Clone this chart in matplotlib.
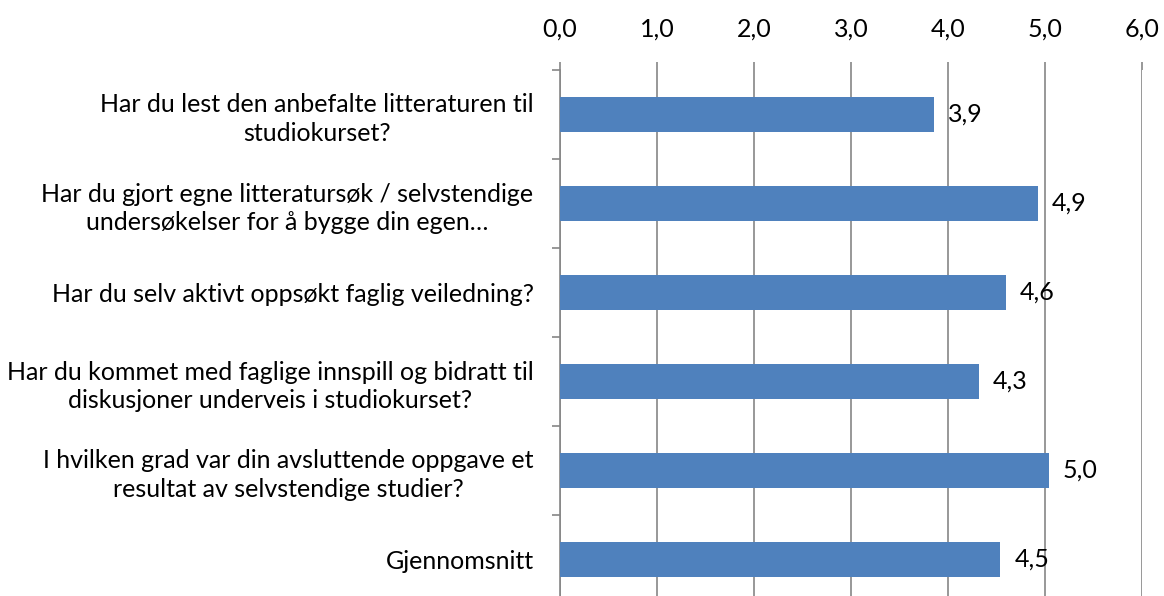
import matplotlib.pyplot as plt

# survey questions, top to bottom
questions = [
    "Har du lest den anbefalte litteraturen til\nstudiokurset?",
    "Har du gjort egne litteratursøk / selvstendige\nundersøkelser for å bygge din egen…",
    "Har du selv aktivt oppsøkt faglig veiledning?",
    "Har du kommet med faglige innspill og bidratt til\ndiskusjoner underveis i studiokurset?",
    "I hvilken grad var din avsluttende oppgave et\nresultat av selvstendige studier?",
    "Gjennomsnitt",
]
scores = [3.86, 4.93, 4.60, 4.32, 5.04, 4.54]
xticks = [0, 1, 2, 3, 4, 5, 6]

plt.rcParams['font.family'] = ['Lato', 'DejaVu Sans']

fig = plt.figure(figsize=(11.64, 5.96), dpi=100)
# plot area runs a little past the bottom edge, as in the original
ax = fig.add_axes([560 / 1164, -8 / 596, 582 / 1164, 534 / 596])

pos = list(range(len(questions)))
ax.barh(pos, scores, height=0.39, color='#4F81BD', zorder=3)

for y, v in zip(pos, scores):
    ax.annotate(f"{v:.1f}".replace('.', ','), (v, y), xytext=(10, 0),
                textcoords='offset points', va='center', ha='left',
                fontsize=18, color='black')

ax.set_xlim(0, 6)
ax.set_ylim(len(questions) - 0.5, -0.5)
ax.set_xticks(xticks)
ax.set_xticklabels([f"{t:.1f}".replace('.', ',') for t in xticks], fontsize=18)
ax.xaxis.tick_top()
ax.tick_params(axis='x', length=6, width=1.2, color='#868686', pad=15)

ax.set_yticks(pos)
ax.set_yticklabels(questions, fontsize=18, ha='right', multialignment='center',
                   linespacing=1.3)
ax.set_yticks([p - 0.5 for p in pos], minor=True)
ax.tick_params(axis='y', which='major', length=0, pad=19)
ax.tick_params(axis='y', which='minor', length=6, width=1.2, color='#868686')

ax.grid(axis='x', color='#868686', linewidth=1.2, zorder=0)
for s in ['top', 'bottom', 'right']:
    ax.spines[s].set_visible(False)
ax.spines['left'].set_color('#868686')
ax.spines['left'].set_linewidth(1.2)

fig.savefig('out.png', dpi=100)
